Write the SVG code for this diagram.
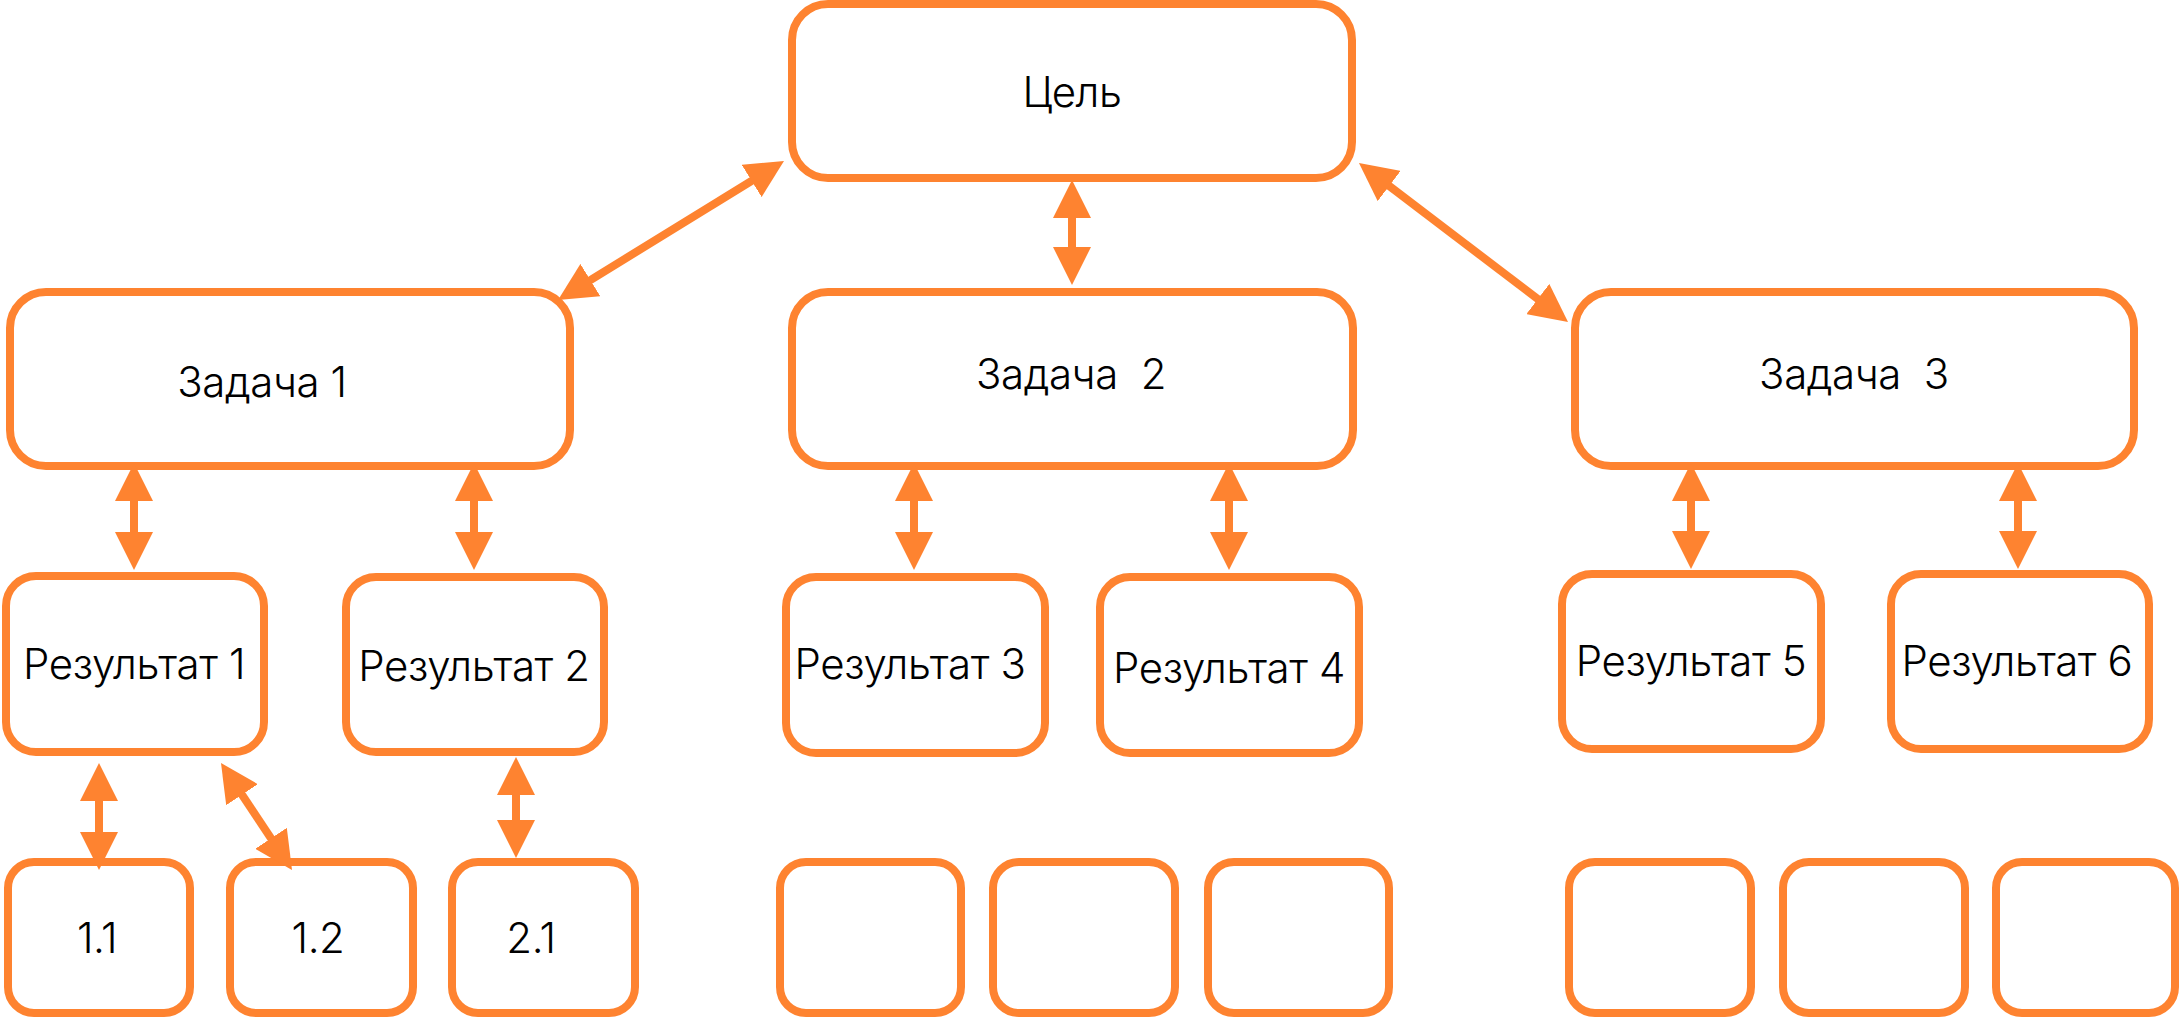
<svg xmlns="http://www.w3.org/2000/svg" width="2182" height="1023" viewBox="0 0 2182 1023">
<style>
.box{fill:#fff;stroke:#FE8330;stroke-width:8}
.lbl{font-family:Inter,"Noto Sans",sans-serif;font-size:42px;font-weight:300;letter-spacing:-0.4px;fill:#000;text-anchor:middle;white-space:pre}
.con{stroke:#FE8330;stroke-width:8;fill:none;marker-start:url(#ah);marker-end:url(#ah)}
</style>
<defs>
<marker id="ah" viewBox="0 0 38 38" markerUnits="userSpaceOnUse" markerWidth="38" markerHeight="38" refX="21" refY="19" orient="auto-start-reverse">
<path d="M0,0 L38,19 L0,38 Z" fill="#FE8330"/>
</marker>
</defs>
<rect width="2182" height="1023" fill="#fff"/>
<g id="goal"><rect class="box" x="792" y="4" width="560" height="174" rx="36"/><text class="lbl" x="1072" y="107">Цель</text></g>
<g id="task1"><rect class="box" x="10" y="292" width="560" height="174" rx="36"/><text class="lbl" x="262" y="397">Задача 1</text></g>
<g id="task2"><rect class="box" x="792" y="292" width="561" height="174" rx="36"/><text class="lbl" x="1071" y="389">Задача  2</text></g>
<g id="task3"><rect class="box" x="1575" y="292" width="559" height="174" rx="36"/><text class="lbl" x="1854" y="389">Задача  3</text></g>
<g id="res1"><rect class="box" x="6" y="576" width="258" height="176" rx="30"/><text class="lbl" x="134" y="679">Результат 1</text></g>
<g id="res2"><rect class="box" x="346" y="577" width="258" height="175" rx="30"/><text class="lbl" x="474" y="681">Результат 2</text></g>
<g id="res3"><rect class="box" x="786" y="577" width="259" height="176" rx="30"/><text class="lbl" x="910" y="679">Результат 3</text></g>
<g id="res4"><rect class="box" x="1100" y="577" width="259" height="176" rx="30"/><text class="lbl" x="1229" y="683">Результат 4</text></g>
<g id="res5"><rect class="box" x="1562" y="574" width="259" height="175" rx="30"/><text class="lbl" x="1691" y="676">Результат 5</text></g>
<g id="res6"><rect class="box" x="1891" y="574" width="258" height="175" rx="30"/><text class="lbl" x="2017" y="676">Результат 6</text></g>
<g id="sub11"><rect class="box" x="8" y="862" width="182" height="151" rx="26"/><text class="lbl" x="97" y="953">1.1</text></g>
<g id="sub12"><rect class="box" x="230" y="862" width="183" height="151" rx="26"/><text class="lbl" x="318" y="953">1.2</text></g>
<g id="sub21"><rect class="box" x="452" y="862" width="183" height="151" rx="26"/><text class="lbl" x="531" y="953">2.1</text></g>
<g id="sub4"><rect class="box" x="780" y="862" width="181" height="151" rx="26"/></g>
<g id="sub5"><rect class="box" x="993" y="862" width="182" height="151" rx="26"/></g>
<g id="sub6"><rect class="box" x="1208" y="862" width="181" height="151" rx="26"/></g>
<g id="sub7"><rect class="box" x="1569" y="862" width="182" height="151" rx="26"/></g>
<g id="sub8"><rect class="box" x="1783" y="862" width="182" height="151" rx="26"/></g>
<g id="sub9"><rect class="box" x="1996" y="862" width="179" height="151" rx="26"/></g>
<g id="connectors">
<line class="con" x1="769.5" y1="169.9" x2="572.5" y2="291.1"/>
<line class="con" x1="1072" y1="197" x2="1072" y2="268"/>
<line class="con" x1="1372.5" y1="173.3" x2="1554.5" y2="311.7"/>
<line class="con" x1="134" y1="480" x2="134" y2="553"/>
<line class="con" x1="474" y1="480" x2="474" y2="553"/>
<line class="con" x1="914" y1="480" x2="914" y2="553"/>
<line class="con" x1="1229" y1="480" x2="1229" y2="553"/>
<line class="con" x1="1691" y1="480" x2="1691" y2="552"/>
<line class="con" x1="2018" y1="480" x2="2018" y2="552"/>
<line class="con" x1="99" y1="780" x2="99" y2="853"/>
<line class="con" x1="230.4" y1="777.2" x2="282.6" y2="855.8"/>
<line class="con" x1="516" y1="774" x2="516" y2="841"/>
</g>
</svg>
